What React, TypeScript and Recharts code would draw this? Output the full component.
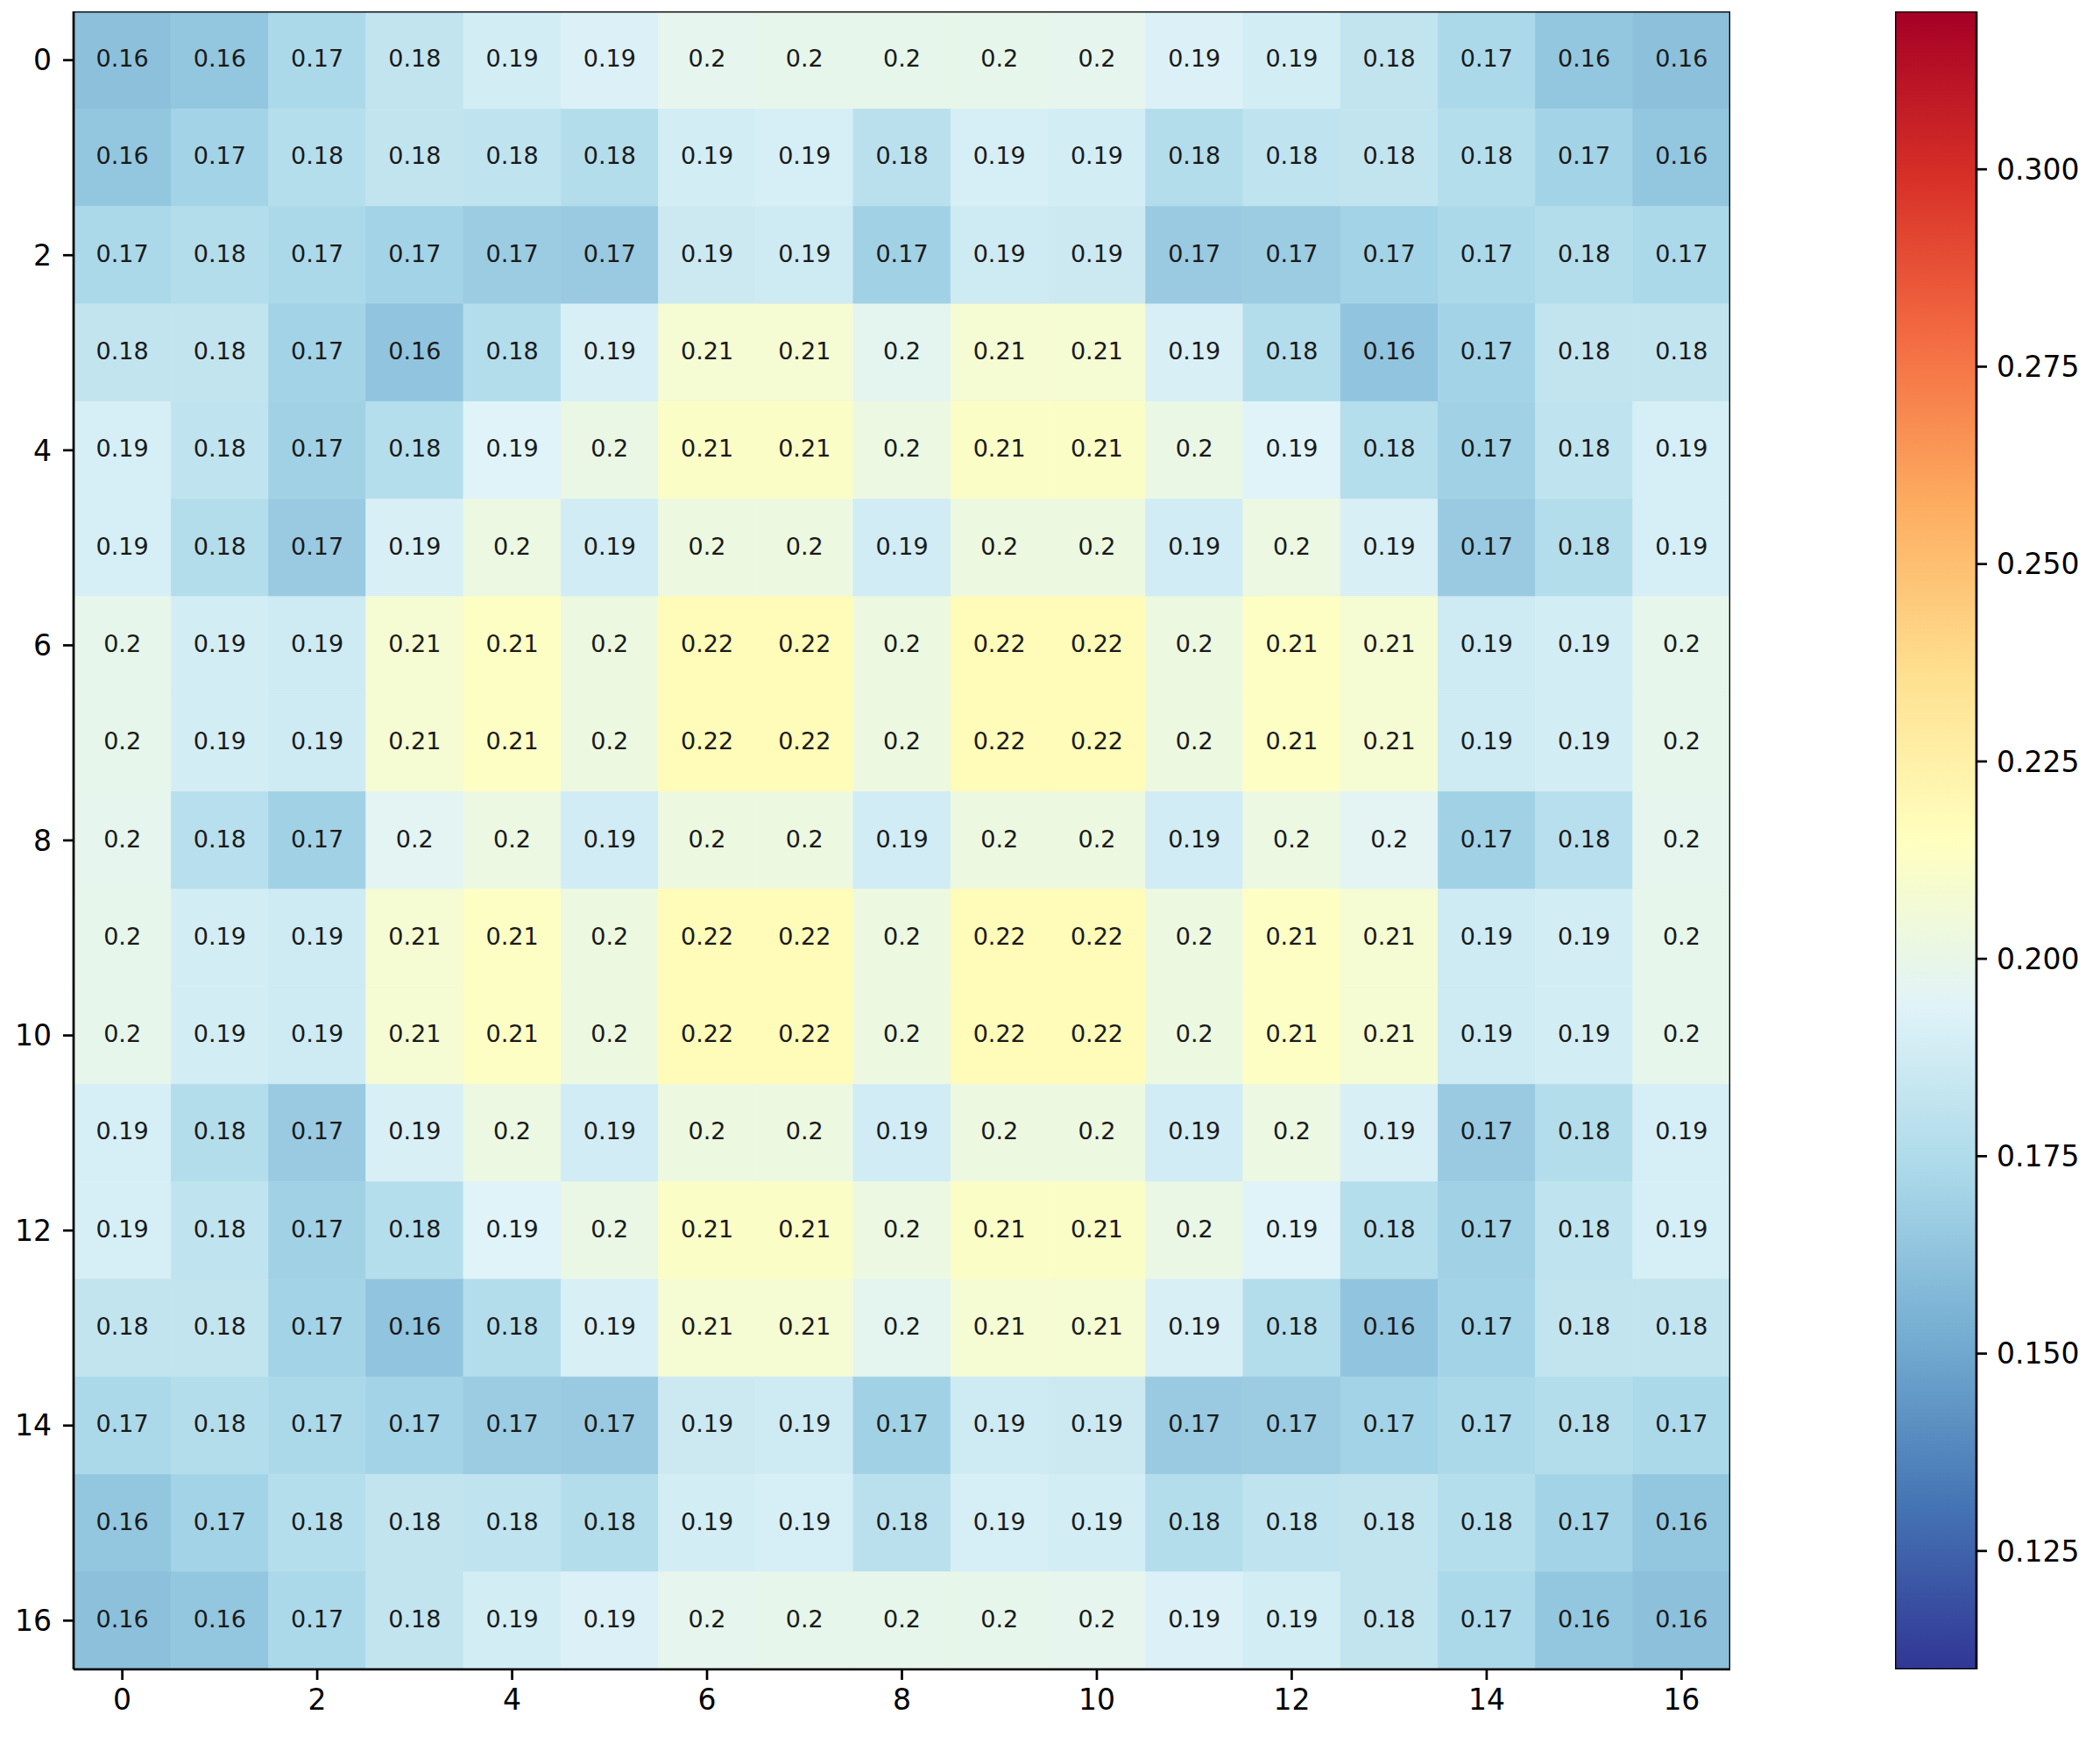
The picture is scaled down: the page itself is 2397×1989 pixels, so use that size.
import React from 'react';
import { ScatterChart, Scatter, XAxis, YAxis, BarChart, Bar } from 'recharts';

// heatmap rows, top (0) to bottom (16)
const r00 = [0.161, 0.164, 0.173, 0.182, 0.189, 0.192, 0.198, 0.199, 0.199, 0.199, 0.198, 0.192, 0.189, 0.182, 0.173, 0.164, 0.161];
const r01 = [0.164, 0.170, 0.177, 0.182, 0.181, 0.176, 0.189, 0.190, 0.179, 0.190, 0.189, 0.176, 0.181, 0.182, 0.177, 0.170, 0.164];
const r02 = [0.173, 0.176, 0.173, 0.170, 0.167, 0.166, 0.186, 0.187, 0.169, 0.187, 0.186, 0.166, 0.167, 0.170, 0.173, 0.176, 0.173];
const r03 = [0.182, 0.182, 0.170, 0.163, 0.176, 0.191, 0.208, 0.208, 0.197, 0.208, 0.208, 0.191, 0.176, 0.163, 0.170, 0.182, 0.182];
const r04 = [0.190, 0.181, 0.169, 0.177, 0.194, 0.201, 0.212, 0.212, 0.202, 0.212, 0.212, 0.201, 0.194, 0.177, 0.169, 0.181, 0.190];
const r05 = [0.190, 0.176, 0.166, 0.191, 0.202, 0.188, 0.203, 0.203, 0.188, 0.203, 0.203, 0.188, 0.202, 0.191, 0.166, 0.176, 0.190];
const r06 = [0.199, 0.189, 0.187, 0.208, 0.213, 0.203, 0.218, 0.218, 0.203, 0.218, 0.218, 0.203, 0.213, 0.208, 0.187, 0.189, 0.199];
const r07 = [0.199, 0.189, 0.187, 0.208, 0.213, 0.203, 0.218, 0.218, 0.203, 0.218, 0.218, 0.203, 0.213, 0.208, 0.187, 0.189, 0.199];
const r08 = [0.198, 0.178, 0.169, 0.196, 0.202, 0.188, 0.203, 0.203, 0.188, 0.203, 0.203, 0.188, 0.202, 0.196, 0.169, 0.178, 0.198];
const r09 = [0.199, 0.189, 0.187, 0.208, 0.213, 0.203, 0.218, 0.218, 0.203, 0.218, 0.218, 0.203, 0.213, 0.208, 0.187, 0.189, 0.199];
const r10 = [0.199, 0.189, 0.187, 0.208, 0.213, 0.203, 0.218, 0.218, 0.203, 0.218, 0.218, 0.203, 0.213, 0.208, 0.187, 0.189, 0.199];
const r11 = [0.190, 0.176, 0.166, 0.191, 0.202, 0.188, 0.203, 0.203, 0.188, 0.203, 0.203, 0.188, 0.202, 0.191, 0.166, 0.176, 0.190];
const r12 = [0.190, 0.181, 0.169, 0.177, 0.194, 0.201, 0.212, 0.212, 0.202, 0.212, 0.212, 0.201, 0.194, 0.177, 0.169, 0.181, 0.190];
const r13 = [0.182, 0.182, 0.170, 0.163, 0.176, 0.191, 0.208, 0.208, 0.197, 0.208, 0.208, 0.191, 0.176, 0.163, 0.170, 0.182, 0.182];
const r14 = [0.173, 0.176, 0.173, 0.170, 0.167, 0.166, 0.186, 0.187, 0.169, 0.187, 0.186, 0.166, 0.167, 0.170, 0.173, 0.176, 0.173];
const r15 = [0.164, 0.170, 0.177, 0.182, 0.181, 0.176, 0.189, 0.190, 0.179, 0.190, 0.189, 0.176, 0.181, 0.182, 0.177, 0.170, 0.164];
const r16 = [0.161, 0.164, 0.173, 0.182, 0.189, 0.192, 0.198, 0.199, 0.199, 0.199, 0.198, 0.192, 0.189, 0.182, 0.173, 0.164, 0.161];

const grid = [r00, r01, r02, r03, r04, r05, r06, r07, r08, r09, r10, r11, r12, r13, r14, r15, r16];

const cellTicks = [0, 2, 4, 6, 8, 10, 12, 14, 16];
const colorbarTicks = [0.125, 0.15, 0.175, 0.2, 0.225, 0.25, 0.275, 0.3];
const colorMin = 0.11;
const colorMax = 0.32;

// RdYlBu reversed
const RDYLBU_R = ['#313695', '#4575b4', '#74add1', '#abd9e9', '#e0f3f8', '#ffffbf', '#fee090', '#fdae61', '#f46d43', '#d73027', '#a50026'];

const cells = grid.flatMap((row, r) => row.map((value, c) => ({ col: c, row: r, value })));
// centre of the image, used to draw the axes frame on top of the cells
const frameCentre = [{ col: 8, row: 8 }];
const colorbarData = [{ name: 'scale', span: [colorMin, colorMax] }];

const FONT = '"DejaVu Sans", sans-serif';
const CHART_W = 1980;
const CHART_H = 1957;
const MARGIN = { top: 5, right: 13, bottom: 0, left: 0 };
const Y_AXIS_W = 76;
const X_AXIS_H = 60;
const CELL_W = (CHART_W - MARGIN.left - MARGIN.right - Y_AXIS_W) / 17;
const CELL_H = (CHART_H - MARGIN.top - MARGIN.bottom - X_AXIS_H) / 17;

const axisLine = { stroke: '#000', strokeWidth: 2.7 };
const tickStyle = { fill: '#000', fontSize: 33, fontFamily: FONT };

const hexToRgb = (h: string) => [1, 3, 5].map((i) => parseInt(h.slice(i, i + 2), 16));

function colorFor(v: number) {
  const t = Math.max(0, Math.min(1, (v - colorMin) / (colorMax - colorMin)));
  const p = t * 10;
  const i = Math.min(9, Math.floor(p));
  const f = p - i;
  const a = hexToRgb(RDYLBU_R[i]);
  const b = hexToRgb(RDYLBU_R[i + 1]);
  const m = a.map((x, k) => Math.round(x + (b[k] - x) * f));
  return `rgb(${m[0]},${m[1]},${m[2]})`;
}

const fmt = (v: number) => String(Number(v.toFixed(2)));

function HeatCell(props: any) {
  const { cx, cy, payload } = props;
  if (cx == null || cy == null) return null;
  const fill = colorFor(payload.value);
  return (
    <g>
      <rect x={cx - CELL_W / 2} y={cy - CELL_H / 2} width={CELL_W} height={CELL_H} fill={fill} stroke={fill} strokeWidth={0.6} />
      <text x={cx} y={cy - 2} textAnchor="middle" dominantBaseline="central" fontSize={27} fontFamily={FONT} fill="#1a1a1a">
        {fmt(payload.value)}
      </text>
    </g>
  );
}

function Frame(props: any) {
  const { cx, cy } = props;
  if (cx == null || cy == null) return null;
  const w = CELL_W * 17;
  const h = CELL_H * 17;
  return <rect x={cx - w / 2} y={cy - h / 2} width={w} height={h} fill="none" stroke="#000" strokeWidth={2.7} />;
}

export default function App() {
  return (
    <div style={{ position: 'relative', width: 2389, height: 1965, background: '#fff' }}>
      <div style={{ position: 'absolute', left: 0, top: 0 }}>
        <ScatterChart width={CHART_W} height={CHART_H} margin={MARGIN}>
          <XAxis
            type="number"
            dataKey="col"
            domain={[-0.5, 16.5]}
            ticks={cellTicks}
            interval={0}
            allowDataOverflow
            height={X_AXIS_H}
            tickSize={12}
            tickMargin={11}
            tick={tickStyle}
            axisLine={axisLine}
            tickLine={axisLine}
          />
          <YAxis
            type="number"
            dataKey="row"
            domain={[-0.5, 16.5]}
            reversed
            ticks={cellTicks}
            interval={0}
            allowDataOverflow
            width={Y_AXIS_W}
            tickSize={12}
            tickMargin={13}
            tick={tickStyle}
            axisLine={axisLine}
            tickLine={axisLine}
          />
          <Scatter data={cells} shape={HeatCell} isAnimationActive={false} />
          <Scatter data={frameCentre} shape={Frame} isAnimationActive={false} />
        </ScatterChart>
      </div>
      <div style={{ position: 'absolute', left: 2155, top: 0 }}>
        <BarChart width={233} height={CHART_H} data={colorbarData} margin={{ top: 5, right: 0, bottom: X_AXIS_H, left: 0 }} barCategoryGap={0}>
          <defs>
            <linearGradient id="cbar" x1="0" y1="1" x2="0" y2="0">
              {RDYLBU_R.map((c, i) => (
                <stop key={c} offset={`${i * 10}%`} stopColor={c} />
              ))}
            </linearGradient>
          </defs>
          <XAxis dataKey="name" hide />
          <YAxis
            orientation="right"
            type="number"
            domain={[colorMin, colorMax]}
            ticks={colorbarTicks}
            interval={0}
            allowDataOverflow
            width={140}
            tickSize={12}
            tickMargin={11}
            tick={tickStyle}
            axisLine={false}
            tickLine={axisLine}
            tickFormatter={(v: number) => v.toFixed(3)}
          />
          <Bar dataKey="span" fill="url(#cbar)" stroke="#000" strokeWidth={2.7} isAnimationActive={false} />
        </BarChart>
      </div>
    </div>
  );
}
